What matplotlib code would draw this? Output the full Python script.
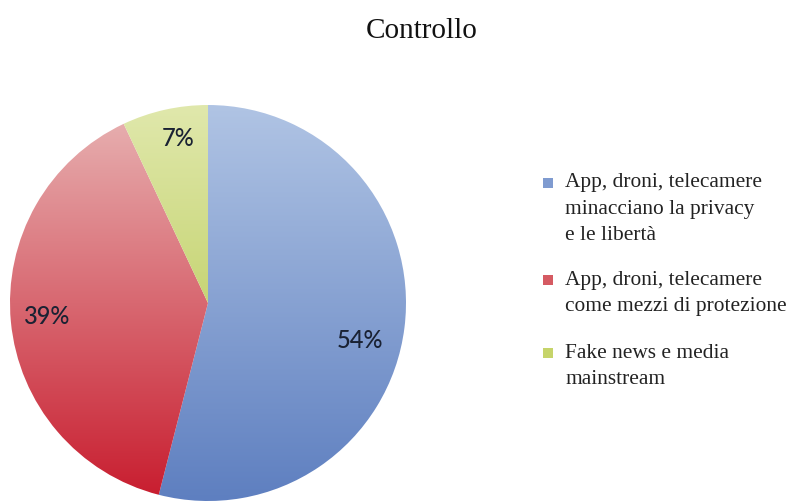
import numpy as np
import matplotlib
matplotlib.use("Agg")
import matplotlib.pyplot as plt
from matplotlib.colors import LinearSegmentedColormap
from matplotlib.patches import Rectangle

title = "Controllo"
categories = [
    ["App, droni, telecamere", "minacciano la privacy", "e le libertà"],
    ["App, droni, telecamere", "come mezzi di protezione"],
    ["Fake news e media", "mainstream"],
]
values = [54, 39, 7]
top_colors = ["#b0c4e4", "#e8b4b4", "#e0e8ac"]
bottom_colors = ["#5e7fc0", "#c81c2e", "#aec23e"]
legend_colors = ["#7f9bd0", "#d55a62", "#c6d46a"]

plt.rcParams['font.family'] = ['Liberation Serif', 'DejaVu Serif']

W, H = 807, 501
fig = plt.figure(figsize=(W/100, H/100), dpi=100)
ax = fig.add_axes([10/W, 0/H, 396/W, 396/H])

wedges, texts, autotexts = ax.pie(
    values, startangle=90, counterclock=False, radius=1.0,
    autopct='%d%%', pctdistance=0.82, labeldistance=None,
    wedgeprops=dict(linewidth=0, edgecolor='none'),
    textprops=dict(fontsize=17, color='#1a2233', family=['Lato', 'DejaVu Sans'],
                   fontweight='medium'))

grad = np.linspace(1, 0, 256).reshape(-1, 1)
for w, c0, c1 in zip(wedges, top_colors, bottom_colors):
    w.set_facecolor('none')
    cmap = LinearSegmentedColormap.from_list('g', [c1, c0])
    im = ax.imshow(grad, cmap=cmap, extent=(-1, 1, -1, 1), aspect='auto',
                   origin='upper', zorder=0.5, vmin=0, vmax=1)
    im.set_clip_path(w)

# nudge percentage labels to match reference
autotexts[0].set_position((0.77, -0.19))
autotexts[1].set_position((-0.81, -0.07))
autotexts[2].set_position((-0.15, 0.83))

ax.set_xlim(-1, 1)
ax.set_ylim(-1, 1)
ax.set_aspect('equal')
ax.axis('off')

fig.text(422/W, 1 - 31/H, title, ha='center', va='center', fontsize=21, color='#111111')

# manual legend: square aligned with first line of each entry
entry_tops = [183, 280, 353]
line_step = 26.5
for lines, color, y0 in zip(categories, legend_colors, entry_tops):
    fig.patches.append(Rectangle((543/W, 1 - (y0 + 5)/H), 10/W, 10/H,
                                 transform=fig.transFigure, facecolor=color,
                                 edgecolor='none'))
    for i, line in enumerate(lines):
        fig.text(565/W, 1 - (y0 + i*line_step)/H, line, ha='left', va='center',
                 fontsize=15.4, color='#222222')

fig.savefig('out.png', dpi=100, facecolor='white')
